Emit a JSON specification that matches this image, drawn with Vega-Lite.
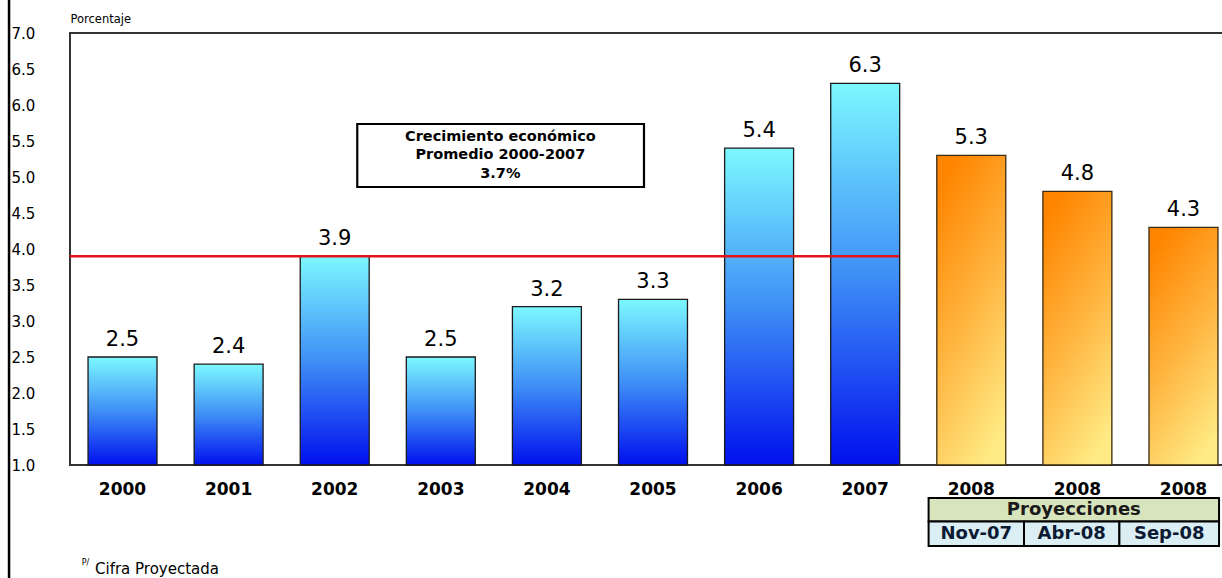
{
  "$schema": "https://vega.github.io/schema/vega-lite/v6.json",
  "width": 1166,
  "height": 432,
  "autosize": {"type": "none"},
  "padding": {"left": 70, "top": 33, "right": 0, "bottom": 113},
  "background": "white",
  "config": {
    "view": {"stroke": "#333333", "strokeWidth": 2},
    "text": {"font": "DejaVu Sans", "color": "#000000"}
  },
  "resolve": {"scale": {"x": "independent"}, "axis": {"x": "independent", "y": "independent"}},
  "layer": [
    {
      "data": {
        "values": [
          {"clave": "2000", "valor": 2.5, "tipo": "observado"},
          {"clave": "2001", "valor": 2.4, "tipo": "observado"},
          {"clave": "2002", "valor": 3.9, "tipo": "observado"},
          {"clave": "2003", "valor": 2.5, "tipo": "observado"},
          {"clave": "2004", "valor": 3.2, "tipo": "observado"},
          {"clave": "2005", "valor": 3.3, "tipo": "observado"},
          {"clave": "2006", "valor": 5.4, "tipo": "observado"},
          {"clave": "2007", "valor": 6.3, "tipo": "observado"},
          {"clave": "2008 Nov-07", "valor": 5.3, "tipo": "proyectado"},
          {"clave": "2008 Abr-08", "valor": 4.8, "tipo": "proyectado"},
          {"clave": "2008 Sep-08", "valor": 4.3, "tipo": "proyectado"}
        ]
      },
      "encoding": {
        "x": {
          "field": "clave",
          "type": "nominal",
          "sort": null,
          "scale": {"paddingInner": 0.35, "paddingOuter": 0.17},
          "axis": {
            "title": null,
            "orient": "bottom",
            "ticks": false,
            "domain": false,
            "labelAngle": 0,
            "labelExpr": "split(datum.value, ' ')[0]",
            "labelFont": "DejaVu Sans",
            "labelFontWeight": "bold",
            "labelFontSize": 17,
            "labelColor": "#000000",
            "labelPadding": 16,
            "labelBaseline": "top"
          }
        },
        "y": {
          "field": "valor",
          "type": "quantitative",
          "scale": {"domain": [1, 7], "nice": false, "zero": false},
          "axis": {
            "title": "Porcentaje",
            "titleAngle": 0,
            "titleAlign": "left",
            "titleBaseline": "alphabetic",
            "titleX": 0,
            "titleY": -11,
            "titleFont": "DejaVu Sans",
            "titleFontSize": 11.5,
            "titleFontWeight": "normal",
            "titleColor": "#000000",
            "values": [1, 1.5, 2, 2.5, 3, 3.5, 4, 4.5, 5, 5.5, 6, 6.5, 7],
            "format": ".1f",
            "ticks": false,
            "domain": false,
            "grid": false,
            "labelAlign": "left",
            "labelBaseline": "middle",
            "labelPadding": 59,
            "labelFont": "DejaVu Sans",
            "labelFontSize": 15,
            "labelColor": "#000000"
          }
        }
      },
      "layer": [
        {
          "transform": [{"filter": "datum.tipo === 'observado'"}],
          "mark": {
            "type": "bar",
            "stroke": "#1a1a1a",
            "strokeWidth": 1.3,
            "fill": {
              "gradient": "linear",
              "x1": 0, "y1": 0, "x2": 0, "y2": 1,
              "stops": [
                {"offset": 0, "color": "#7cf8ff"},
                {"offset": 0.5, "color": "#3f8ff6"},
                {"offset": 1, "color": "#0010ee"}
              ]
            }
          },
          "encoding": {"y2": {"datum": 1}}
        },
        {
          "transform": [{"filter": "datum.tipo === 'proyectado'"}],
          "mark": {
            "type": "bar",
            "stroke": "#3a2a10",
            "strokeWidth": 1.3,
            "fill": {
              "gradient": "linear",
              "x1": 0.3, "y1": 0, "x2": 0.7, "y2": 1,
              "stops": [
                {"offset": 0, "color": "#ff8500"},
                {"offset": 0.5, "color": "#ffb540"},
                {"offset": 1, "color": "#ffeb85"}
              ]
            }
          },
          "encoding": {"y2": {"datum": 1}}
        },
        {
          "mark": {"type": "text", "baseline": "alphabetic", "dy": -11, "fontSize": 21, "font": "DejaVu Sans"},
          "encoding": {"text": {"field": "valor", "type": "quantitative", "format": ".1f"}}
        }
      ]
    },
    {
      "data": {"values": [{"nota": "anotaciones"}]},
      "layer": [
        {
          "mark": {"type": "rule", "color": "#000000", "strokeWidth": 2.5},
          "encoding": {
            "x": {"datum": -0.575, "type": "quantitative", "scale": {"domain": [0, 11], "nice": false, "zero": false}, "axis": null},
            "y": {"datum": 7.46, "type": "quantitative", "scale": {"domain": [1, 7], "nice": false, "zero": false}, "axis": null},
            "y2": {"datum": -0.6}
          }
        },
        {
          "mark": {"type": "rule", "color": "#e3121b", "strokeWidth": 2.5},
          "encoding": {
            "x": {"datum": 0, "type": "quantitative", "axis": null},
            "x2": {"datum": 7.82},
            "y": {"datum": 3.9, "type": "quantitative", "axis": null}
          }
        },
        {
          "mark": {"type": "rect", "fill": "white", "stroke": "#000000", "strokeWidth": 2.2},
          "encoding": {
            "x": {"datum": 2.71, "type": "quantitative", "axis": null},
            "x2": {"datum": 5.415},
            "y": {"datum": 5.736, "type": "quantitative", "axis": null},
            "y2": {"datum": 4.861}
          }
        },
        {
          "mark": {"type": "text", "fontSize": 14.5, "fontWeight": "bold", "lineHeight": 18.5, "align": "center", "baseline": "middle"},
          "encoding": {
            "x": {"datum": 4.06, "type": "quantitative", "axis": null},
            "y": {"datum": 5.556, "type": "quantitative", "axis": null},
            "text": {"value": ["Crecimiento económico", "Promedio 2000-2007", "3.7%"]}
          }
        },
        {
          "mark": {"type": "rect", "fill": "#d7e4bc", "stroke": "#000000", "strokeWidth": 2},
          "encoding": {
            "x": {"datum": 8.1, "type": "quantitative", "axis": null},
            "x2": {"datum": 10.84},
            "y": {"datum": 0.542, "type": "quantitative", "axis": null},
            "y2": {"datum": 0.215}
          }
        },
        {
          "mark": {"type": "text", "fontSize": 18, "fontWeight": "bold", "color": "#1a1a1a", "align": "center", "baseline": "middle"},
          "encoding": {
            "x": {"datum": 9.47, "type": "quantitative", "axis": null},
            "y": {"datum": 0.378, "type": "quantitative", "axis": null},
            "text": {"value": "Proyecciones"}
          }
        },
        {
          "mark": {"type": "rect", "fill": "#dbeef4", "stroke": "#000000", "strokeWidth": 2},
          "encoding": {
            "x": {"datum": 8.1, "type": "quantitative", "axis": null},
            "x2": {"datum": 9.0},
            "y": {"datum": 0.215, "type": "quantitative", "axis": null},
            "y2": {"datum": -0.125}
          }
        },
        {
          "mark": {"type": "rect", "fill": "#dbeef4", "stroke": "#000000", "strokeWidth": 2},
          "encoding": {
            "x": {"datum": 9.0, "type": "quantitative", "axis": null},
            "x2": {"datum": 9.9},
            "y": {"datum": 0.215, "type": "quantitative", "axis": null},
            "y2": {"datum": -0.125}
          }
        },
        {
          "mark": {"type": "rect", "fill": "#dbeef4", "stroke": "#000000", "strokeWidth": 2},
          "encoding": {
            "x": {"datum": 9.9, "type": "quantitative", "axis": null},
            "x2": {"datum": 10.84},
            "y": {"datum": 0.215, "type": "quantitative", "axis": null},
            "y2": {"datum": -0.125}
          }
        },
        {
          "mark": {"type": "text", "fontSize": 18, "fontWeight": "bold", "color": "#0d1a33", "align": "center", "baseline": "middle"},
          "encoding": {
            "x": {"datum": 8.55, "type": "quantitative", "axis": null},
            "y": {"datum": 0.045, "type": "quantitative", "axis": null},
            "text": {"value": "Nov-07"}
          }
        },
        {
          "mark": {"type": "text", "fontSize": 18, "fontWeight": "bold", "color": "#0d1a33", "align": "center", "baseline": "middle"},
          "encoding": {
            "x": {"datum": 9.45, "type": "quantitative", "axis": null},
            "y": {"datum": 0.045, "type": "quantitative", "axis": null},
            "text": {"value": "Abr-08"}
          }
        },
        {
          "mark": {"type": "text", "fontSize": 18, "fontWeight": "bold", "color": "#0d1a33", "align": "center", "baseline": "middle"},
          "encoding": {
            "x": {"datum": 10.37, "type": "quantitative", "axis": null},
            "y": {"datum": 0.045, "type": "quantitative", "axis": null},
            "text": {"value": "Sep-08"}
          }
        },
        {
          "mark": {"type": "text", "fontSize": 8, "align": "left", "baseline": "middle"},
          "encoding": {
            "x": {"datum": 0.11, "type": "quantitative", "axis": null},
            "y": {"datum": -0.36, "type": "quantitative", "axis": null},
            "text": {"value": "P/"}
          }
        },
        {
          "mark": {"type": "text", "fontSize": 15, "align": "left", "baseline": "middle"},
          "encoding": {
            "x": {"datum": 0.236, "type": "quantitative", "axis": null},
            "y": {"datum": -0.445, "type": "quantitative", "axis": null},
            "text": {"value": "Cifra Proyectada"}
          }
        }
      ]
    }
  ]
}
